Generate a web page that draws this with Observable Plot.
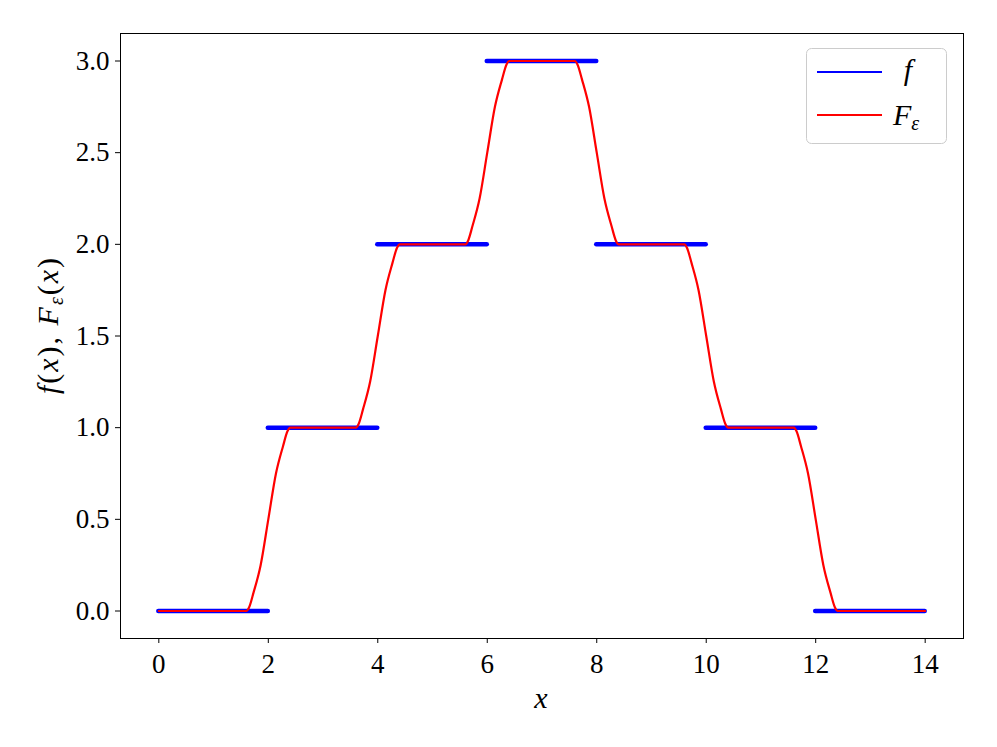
<!DOCTYPE html>
<html><head><meta charset="utf-8">
<script src="https://cdn.jsdelivr.net/npm/d3@7"></script>
<script src="https://cdn.jsdelivr.net/npm/@observablehq/plot@0.6"></script>
<style>
body{margin:0;background:#fff;}
#wrap{width:997px;height:747px;}
</style></head><body><div id="wrap"></div>
<script>
// step function f
const stepStarts = [0, 2, 4, 6, 8, 10, 12];
const stepEnds   = [2, 4, 6, 8, 10, 12, 14];
const stepValues = [0, 1, 2, 3, 2, 1, 0];

// smoothed F_eps
const smoothX = [0, 1.6, 1.65, 1.73, 1.86, 2.0, 2.14, 2.27, 2.35, 2.4,
  3.6, 3.65, 3.73, 3.86, 4.0, 4.14, 4.27, 4.35, 4.4,
  5.6, 5.65, 5.73, 5.86, 6.0, 6.14, 6.27, 6.35, 6.4,
  7.6, 7.65, 7.73, 7.86, 8.0, 8.14, 8.27, 8.35, 8.4,
  9.6, 9.65, 9.73, 9.86, 10.0, 10.14, 10.27, 10.35, 10.4,
  11.6, 11.65, 11.73, 11.86, 12.0, 12.14, 12.27, 12.35, 12.4, 14];
const smoothY = [0, 0, 0.02, 0.1, 0.25, 0.5, 0.75, 0.9, 0.98, 1,
  1, 1.02, 1.1, 1.25, 1.5, 1.75, 1.9, 1.98, 2,
  2, 2.02, 2.1, 2.25, 2.5, 2.75, 2.9, 2.98, 3,
  3, 2.98, 2.9, 2.75, 2.5, 2.25, 2.1, 2.02, 2,
  2, 1.98, 1.9, 1.75, 1.5, 1.25, 1.1, 1.02, 1,
  1, 0.98, 0.9, 0.75, 0.5, 0.25, 0.1, 0.02, 0, 0];

const xTicks = [0, 2, 4, 6, 8, 10, 12, 14];
const yTicks = [0, 0.5, 1, 1.5, 2, 2.5, 3];
const legendLabels = ["f", "F"];

const steps = stepStarts.map((s, i) => ({x1: s, x2: stepEnds[i], y: stepValues[i]}));
const smooth = smoothX.map((x, i) => ({x, y: smoothY[i]}));

const FONT = "Liberation Serif";
const chart = Plot.plot({
  width: 997, height: 747,
  marginLeft: 120, marginRight: 34, marginTop: 33, marginBottom: 109,
  style: {fontFamily: FONT, fontSize: "27px", background: "white", color: "black"},
  x: {domain: [-0.7, 14.7]},
  y: {domain: [-0.15, 3.15]},
  marks: [
    Plot.ruleY(steps, {y: "y", x1: "x1", x2: "x2", stroke: "#0000ff", strokeWidth: 4.5, strokeLinecap: "round"}),
    Plot.line(smooth, {x: "x", y: "y", stroke: "#ff0000", strokeWidth: 2.2, curve: "monotone-x"}),
    Plot.frame({stroke: "black", strokeWidth: 1}),
    Plot.axisX({ticks: xTicks, tickFormat: d => String(d), tickSize: 5, tickPadding: 10, label: null}),
    Plot.axisY({ticks: yTicks, tickFormat: d => d.toFixed(1), tickSize: 5, tickPadding: 6, label: null})
  ]
});
document.getElementById("wrap").appendChild(chart);

const svg = d3.select(chart);
// x label
svg.append("text").attr("x", 541).attr("y", 708).attr("text-anchor", "middle")
  .attr("font-family", FONT).attr("font-style", "italic").attr("font-size", 30).text("x");
// y label
const yl = svg.append("text").attr("transform", "translate(58,325) rotate(-90)").attr("text-anchor", "middle")
  .attr("font-family", FONT).attr("font-size", 30).attr("letter-spacing", 2);
yl.append("tspan").attr("font-style", "italic").text("f");
yl.append("tspan").text("(");
yl.append("tspan").attr("font-style", "italic").text("x");
yl.append("tspan").text("), ");
yl.append("tspan").attr("font-style", "italic").text("F");
yl.append("tspan").attr("font-style", "italic").attr("font-size", 20).attr("dy", 5).text("ε");
yl.append("tspan").attr("dy", -5).text("(");
yl.append("tspan").attr("font-style", "italic").text("x");
yl.append("tspan").text(")");

// legend
const lg = svg.append("g");
lg.append("rect").attr("x", 806.5).attr("y", 48.5).attr("width", 140).attr("height", 95).attr("rx", 5)
  .attr("fill", "white").attr("fill-opacity", 0.8).attr("stroke", "#cccccc");
lg.append("line").attr("x1", 817).attr("x2", 882).attr("y1", 72).attr("y2", 72).attr("stroke", "#0000ff").attr("stroke-width", 2);
lg.append("line").attr("x1", 817).attr("x2", 882).attr("y1", 115).attr("y2", 115).attr("stroke", "#ff0000").attr("stroke-width", 2);
lg.append("text").attr("x", 908).attr("y", 80).attr("font-family", FONT).attr("font-style", "italic").attr("font-size", 30).text(legendLabels[0]);
const t2 = lg.append("text").attr("x", 906).attr("y", 125).attr("font-family", FONT).attr("font-style", "italic").attr("font-size", 30);
t2.append("tspan").text(legendLabels[1]);
t2.append("tspan").attr("font-size", 20).attr("dy", 5).text("ε");
</script></body></html>
